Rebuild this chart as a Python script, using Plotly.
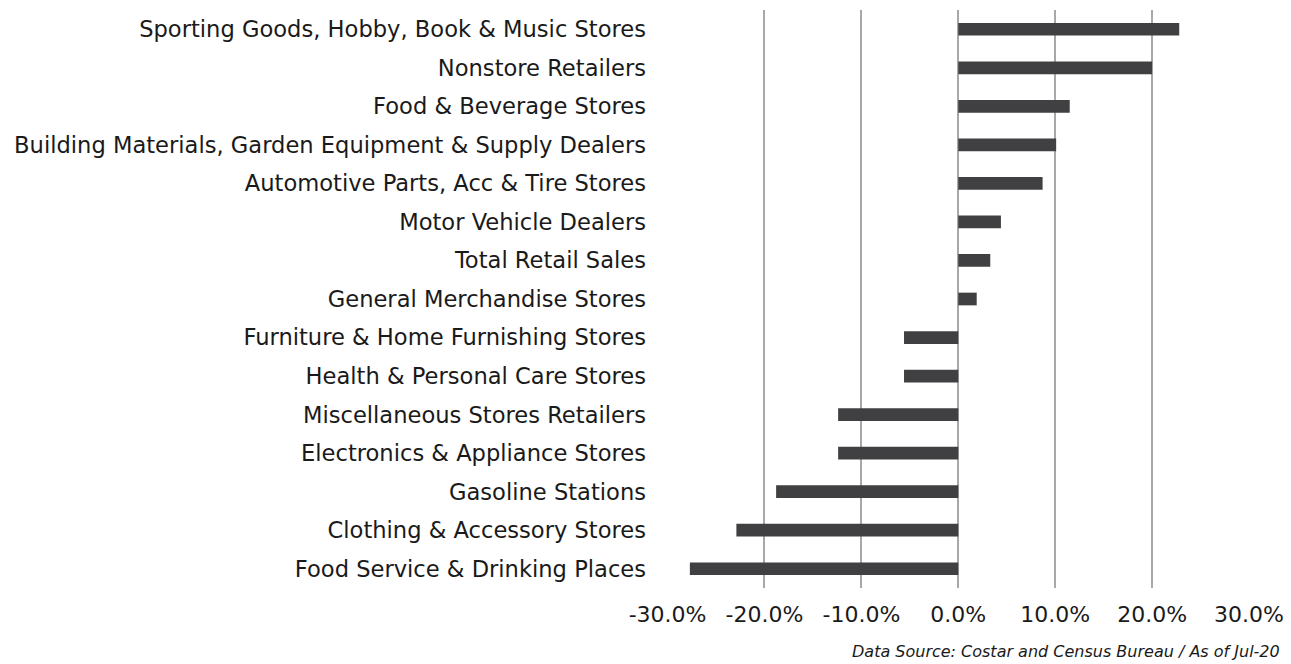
import plotly.graph_objects as go

categories = [
    "Sporting Goods, Hobby, Book & Music Stores",
    "Nonstore Retailers",
    "Food & Beverage Stores",
    "Building Materials, Garden Equipment & Supply Dealers",
    "Automotive Parts, Acc & Tire Stores",
    "Motor Vehicle Dealers",
    "Total Retail Sales",
    "General Merchandise Stores",
    "Furniture & Home Furnishing Stores",
    "Health & Personal Care Stores",
    "Miscellaneous Stores Retailers",
    "Electronics & Appliance Stores",
    "Gasoline Stations",
    "Clothing & Accessory Stores",
    "Food Service & Drinking Places",
]
values = [22.8, 20.0, 11.5, 10.1, 8.7, 4.4, 3.3, 1.9, -5.6, -5.6, -12.4, -12.4, -18.8, -22.9, -27.7]
tick_vals = [-30, -20, -10, 0, 10, 20, 30]
tick_text = ["-30.0%", "-20.0%", "-10.0%", "0.0%", "10.0%", "20.0%", "30.0%"]
grid_vals = [-30, -20, -10, 0, 10, 20]

FONT = "DejaVu Sans"
TXT = "#1a1a1a"
XR = [-30.06, 30]

fig = go.Figure()
fig.add_trace(go.Bar(
    y=categories, x=values, orientation="h",
    marker=dict(color="#404042", line=dict(width=0)),
    width=0.33, xaxis="x", yaxis="y",
))
fig.add_trace(go.Scatter(x=[0], y=[categories[0]], mode="markers",
                         marker=dict(opacity=0), xaxis="x2", yaxis="y",
                         hoverinfo="skip", showlegend=False))

fig.update_layout(
    width=1283, height=656,
    margin=dict(l=659, r=42, t=2, b=76),
    plot_bgcolor="white", paper_bgcolor="white",
    showlegend=False,
    font=dict(family=FONT, color=TXT, size=21),
    xaxis=dict(range=XR, tickvals=tick_vals, ticktext=tick_text,
               showgrid=False, zeroline=False, showline=False,
               tickfont=dict(size=22, family=FONT, color=TXT),
               ticks="", ticklabelstandoff=11),
    xaxis2=dict(range=XR, overlaying="x", side="bottom",
                tickvals=grid_vals, showticklabels=False, showgrid=True,
                gridcolor="#a8a8aa", gridwidth=2, zeroline=False, showline=False,
                layer="below traces"),
    yaxis=dict(categoryorder="array", categoryarray=categories[::-1],
               autorange=False, range=[-0.5, len(categories) - 0.5],
               showgrid=False, zeroline=False, showline=False, ticks="",
               tickfont=dict(size=22.6, family=FONT, color=TXT),
               ticklabelstandoff=20),
)

fig.add_annotation(text="Data Source: Costar and Census Bureau / As of Jul-20",
                   xref="paper", yref="paper", x=1.0567, y=-0.110,
                   xanchor="right", yanchor="middle", showarrow=False,
                   font=dict(family=FONT, size=16, color=TXT, style="italic"))

fig.write_html("out.html")
